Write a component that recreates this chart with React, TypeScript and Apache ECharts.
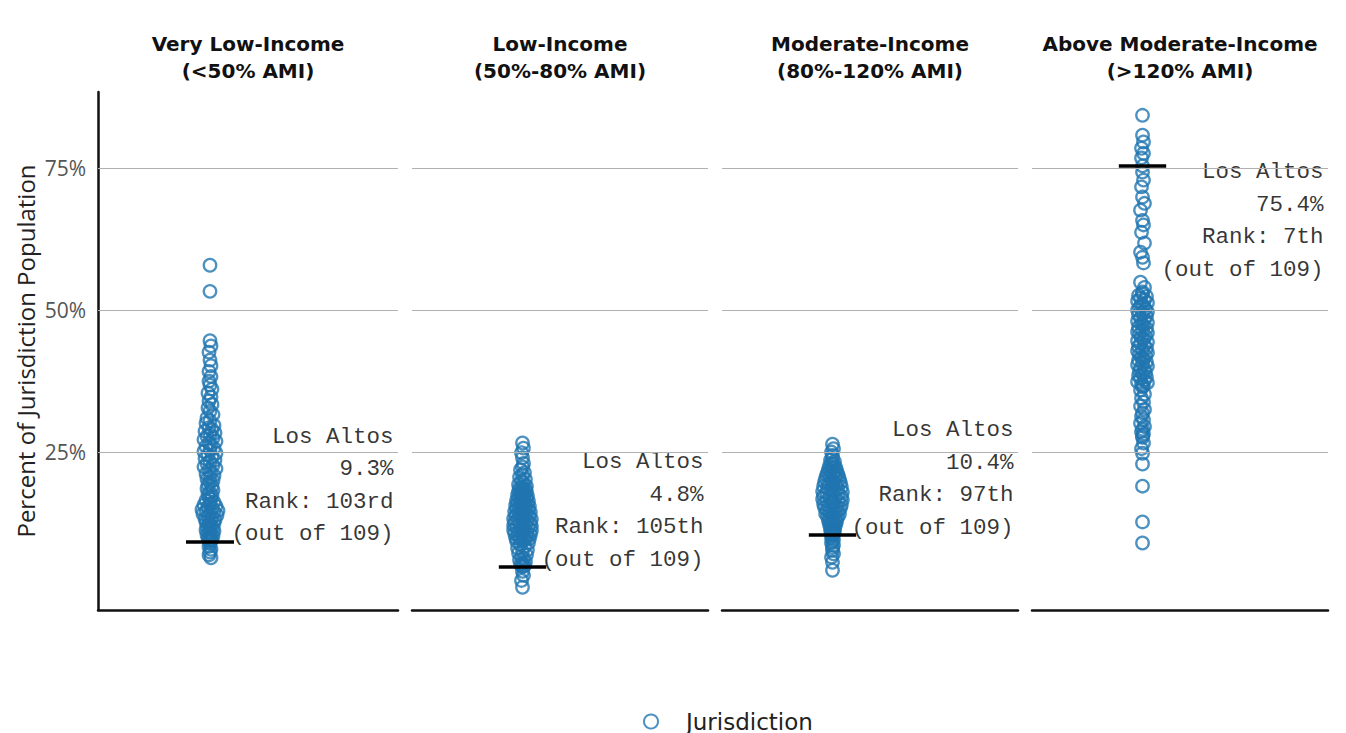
import React, { useEffect, useRef } from 'react';
import * as echarts from 'echarts';

// ---------- data ----------
const CATEGORIES = [
  'Very Low-Income\n(<50% AMI)',
  'Low-Income\n(50%-80% AMI)',
  'Moderate-Income\n(80%-120% AMI)',
  'Above Moderate-Income\n(>120% AMI)',
];
const LOS_ALTOS = [9.3, 4.8, 10.4, 75.4];
const RANKS = ['103rd', '105th', '97th', '7th'];
const TOTAL = 109;
const Y_TICKS = [25, 50, 75];

const VERY_LOW_VALUES = [
  57.9, 53.3,
  44.6, 43.7, 42.6, 41.2, 40.2, 39.2, 38.3, 37.5, 36.8, 36.1, 35.4, 34.7, 34.0, 33.4, 32.8, 32.2, 31.6, 31.0,
  30.5, 30.1, 29.7, 29.3, 29.0, 28.7, 28.4, 28.1, 27.8, 27.5, 27.2, 26.9, 26.6, 26.3, 26.0, 25.7, 25.4, 25.1,
  24.8, 24.5, 24.2, 23.9, 23.6, 23.3, 23.0, 22.7, 22.4, 22.1, 21.8, 21.5, 21.2, 20.9, 20.6, 20.3, 20.0,
  19.7, 19.3, 19.0, 18.6, 18.3, 17.9, 17.6, 17.3, 17.0, 16.7, 16.5, 16.2,
  15.9, 15.7, 15.5, 15.3, 15.1, 14.9, 14.7, 14.6, 14.5, 14.3, 14.1, 13.9, 13.7, 13.5, 13.3, 13.1, 12.9, 12.7, 12.5, 12.3,
  12.1, 11.9, 11.7, 11.5, 11.3, 11.1, 10.9, 10.7, 10.5, 10.3, 10.1, 9.9, 9.7, 9.5, 9.4,
  9.3,
  8.9, 8.4, 7.9, 7.4, 6.9, 6.4,
];
const VERY_LOW_JITTER = [
  0, 0,
  0, 1, -1, 0, 1, -1, 1, -1, 0, 2, -2, 1, -1, 2, -2, 0, 3, -3,
  0, -4, 4, -1, 2, -5, 5, 0, -3, 3, -6, 6, -1, 1, -4, 4, 0, -6, 6, -2, 2, -5, 5, 0, -3, 3, -6, 6, -1, 1, -4, 4, 0, -3, 3,
  0, -2, 2, -3, 3, 0, -2, 2, -1, 1, -4, 4,
  0, -6, 6, -2, 2, -8, 8, -4, 4, 0, -7, 7, -2, 2, -5, 5, 0, -4, 4, -1,
  1, -3, 3, 0, -4, 4, -1, 1, -3, 3, 0, -2, 2, -1, 1,
  0,
  0, -1, 1, 0, -1, 1,
];

const LOW_VALUES = [
  26.6, 25.7, 24.9, 24.0, 23.0,
  22.4, 21.9, 21.4, 21.0, 20.6, 20.2, 19.9, 19.6, 19.3, 19.0,
  18.8, 18.65, 18.5, 18.4, 18.25, 18.1, 18.0, 17.85, 17.7, 17.6,
  17.45, 17.3, 17.2, 17.05, 16.9, 16.8, 16.65, 16.5, 16.4, 16.25,
  16.1, 16.0, 15.85, 15.7, 15.6, 15.45, 15.3, 15.2, 15.05, 14.9,
  14.8, 14.65, 14.5, 14.4, 14.25, 14.1, 14.0, 13.85, 13.7, 13.6,
  13.45, 13.3, 13.2, 13.05, 12.9, 12.8, 12.65, 12.5, 12.4, 12.25,
  12.1, 12.0, 11.85, 11.7, 11.6, 11.45, 11.3, 11.2, 11.05, 10.9,
  10.8, 10.65, 10.5, 10.4, 10.25, 10.1, 10.0, 9.9, 9.8, 9.7,
  9.6, 9.5,
  9.3, 9.0, 8.7, 8.4, 8.1, 7.8, 7.5, 7.2, 6.9, 6.6, 6.3, 6.0, 5.7, 5.4, 5.2, 5.0, 4.9,
  4.8,
  4.0, 3.3, 2.4, 1.2,
];
const LOW_JITTER = [
  0, 1, -1, 0, 1,
  0, -2, 2, 0, -3, 3, -1, 1, -4, 4,
  0, -3, 3, -1, 1, -4, 4, 0, -2, 2,
  -5, 5, -1, 1, -4, 4, 0, -6, 6, -2,
  2, -5, 5, 0, -7, 7, -3, 3, -6, 6,
  -1, 1, -8, 8, -4, 4, 0, -7, 7, -2,
  2, -9, 9, -5, 5, 0, -8, 8, -3, 3,
  -9, 9, -6, 6, -1, 1, -9, 9, -4, 4,
  0, -8, 8, -5, 5, -2, 2, -7, 7, -3,
  3, 0,
  -6, 6, -2, 2, -5, 5, 0, -4, 4, -1, 1, -3, 3, 0, -2, 2, 0,
  0,
  0, 1, -1, 0,
];

const MODERATE_VALUES = [
  26.4, 25.6, 25.0, 24.4,
  23.9, 23.6, 23.3, 23.0, 22.8, 22.6, 22.4, 22.2, 22.0, 21.85,
  21.7, 21.55, 21.4, 21.25, 21.1, 20.95, 20.8, 20.65, 20.5, 20.35,
  20.2, 20.05, 19.9, 19.75, 19.6, 19.45, 19.3, 19.15, 19.0, 18.85,
  18.7, 18.55, 18.4, 18.25, 18.1, 17.95, 17.8, 17.65, 17.5, 17.35,
  17.2, 17.05, 16.9, 16.75, 16.6, 16.45, 16.3, 16.15, 16.0, 15.85,
  15.7, 15.55, 15.4, 15.25, 15.1, 14.95, 14.8, 14.65, 14.5, 14.35,
  14.2, 14.05, 13.9, 13.75, 13.6, 13.45, 13.3, 13.15, 13.0, 12.85,
  12.7, 12.55, 12.4, 12.25, 12.1, 11.95, 11.8, 11.65, 11.5, 11.35,
  11.25, 11.15, 11.05, 10.95, 10.9, 10.85, 10.8, 10.75, 10.7, 10.6, 10.55, 10.5,
  10.4,
  10.2, 9.9, 9.6, 9.3, 9.0, 8.6, 8.2, 7.7, 7.1, 6.5, 5.6, 4.2,
];
const MODERATE_JITTER = [
  0, 1, -1, 0,
  0, -2, 2, -1, 1, -3, 3, 0, -4, 4,
  -2, 2, -5, 5, 0, -6, 6, -3, 3, -7,
  7, -1, 1, -8, 8, -4, 4, 0, -9, 9,
  -5, 5, -2, 2, -10, 10, -6, 6, 0, -9,
  9, -3, 3, -10, 10, -6, 6, -1, 1, -9,
  9, -4, 4, -8, 8, 0, -6, 6, -3, 3,
  -7, 7, -1, 1, -5, 5, -3, 3, 0, -4,
  4, -2, 2, -3, 3, 0, -2, 2, -1, 1,
  -2, 2, 0, -1, 1, 0, -1, 1, 0, -1, 1, 0,
  0,
  0, -1, 1, 0, -1, 1, 0, 0, 1, -1, 0, 0,
];

const ABOVE_MOD_VALUES = [
  84.3, 80.8, 79.6, 78.5, 77.6, 76.8, 75.4,
  74.3, 72.9, 71.7, 69.9, 68.8, 67.6, 65.8, 65.0, 63.7, 61.8, 60.2, 59.3, 58.3, 54.9, 54.0, 53.2,
  52.9, 52.6, 52.4, 52.1, 51.8, 51.6, 51.3, 51.0, 50.8, 50.5,
  50.2, 50.0, 49.7, 49.4, 49.2, 48.9, 48.6, 48.4, 48.1, 47.8,
  47.6, 47.3, 47.0, 46.8, 46.5, 46.2, 46.0, 45.7, 45.4, 45.2,
  44.9, 44.6, 44.4, 44.1, 43.8, 43.6, 43.3, 43.0, 42.8, 42.5,
  42.2, 42.0, 41.7, 41.4, 41.2, 40.9, 40.6, 40.4, 40.1, 39.8,
  39.6, 39.3, 39.0, 38.8, 38.5, 38.2, 38.0, 37.7, 37.4, 37.2,
  36.9, 36.7, 36.5,
  35.9, 35.2, 34.5, 33.8, 33.1, 32.5, 31.9, 31.3, 30.7, 30.1, 29.5, 29.0, 28.6, 28.2, 27.9,
  27.6, 26.6, 25.6, 24.8, 22.9, 19.0, 12.7, 9.0,
];
const ABOVE_MOD_JITTER = [
  0, 0, 1, -1, 1, -1, 0,
  0, 1, -1, 0, 2, -2, 0, 1, -1, 2, -2, 0, 1, -2, 2, 0,
  0, -4, 4, -2, 2, -5, 5, -1, 1, -3,
  3, -5, 5, 0, -4, 4, -2, 2, -5, 5,
  -1, 1, -4, 4, 0, -5, 5, -3, 3, -1,
  1, -5, 5, -2, 2, -4, 4, 0, -5, 5,
  -3, 3, -1, 1, -4, 4, 0, -5, 5, -2,
  2, -3, 3, 0, -4, 4, -2, 2, -5, 5,
  -1, 1, 0,
  -2, 2, -1, 1, -2, 2, 0, -1, 1, -2, 2, 0, -1, 1, 0,
  0, 1, -1, 0, 0, 0, 0, 0,
];

const PANEL_VALUES = [VERY_LOW_VALUES, LOW_VALUES, MODERATE_VALUES, ABOVE_MOD_VALUES];
const PANEL_JITTER = [VERY_LOW_JITTER, LOW_JITTER, MODERATE_JITTER, ABOVE_MOD_JITTER];

// ---------- layout / style ----------
const GRIDS = [
  { left: 98, width: 300 },
  { left: 412, width: 296 },
  { left: 722, width: 296 },
  { left: 1032, width: 296 },
];
const GRID_TOP = 92;
const GRID_HEIGHT = 518;
const Y_MIN = -2.8;
const Y_MAX = 88.4;
const X_MAX = 300;
const CENTER = 112;
const MARK_FROM = 88;
const MARK_TO = 136;
const LABEL_X = 296;
const BLUE = '#2176b0';

export default function App() {
  const ref = useRef<HTMLDivElement>(null);

  useEffect(() => {
    const chart = echarts.init(ref.current!, null, { renderer: 'svg' });

    const series: any[] = [];
    PANEL_VALUES.forEach((vals, i) => {
      series.push({
        name: 'gridlines',
        type: 'scatter',
        xAxisIndex: i,
        yAxisIndex: i,
        data: [],
        silent: true,
        z: 1,
        markLine: {
          silent: true,
          symbol: 'none',
          label: { show: false },
          lineStyle: { color: '#b0b0b0', width: 1.2, type: 'solid' },
          data: Y_TICKS.map((t) => ({ yAxis: t })),
        },
      });
      series.push({
        name: 'Jurisdiction',
        type: 'scatter',
        xAxisIndex: i,
        yAxisIndex: i,
        symbol: 'circle',
        symbolSize: 12.5,
        z: 2,
        itemStyle: { color: 'rgba(0,0,0,0)', borderColor: BLUE, borderWidth: 2.3 },
        data: vals.map((v, j) => [CENTER + PANEL_JITTER[i][j], v]),
      });
      const la = LOS_ALTOS[i];
      series.push({
        name: 'Los Altos',
        type: 'scatter',
        xAxisIndex: i,
        yAxisIndex: i,
        symbol: 'circle',
        symbolSize: 1,
        z: 3,
        silent: true,
        itemStyle: { color: 'rgba(0,0,0,0)' },
        data: [[LABEL_X, la]],
        label: {
          show: true,
          position: 'left',
          distance: 0,
          offset: [0, i === 3 ? 55 : -56],
          align: 'right',
          formatter: `Los Altos\n${la}%\nRank: ${RANKS[i]}\n(out of ${TOTAL})`,
          fontFamily: 'Liberation Mono',
          fontSize: 22.5,
          lineHeight: 32.5,
          color: '#000',
        },
        markLine: {
          silent: true,
          symbol: 'none',
          label: { show: false },
          lineStyle: { color: '#000', width: 3.5, type: 'solid' },
          data: [[{ coord: [MARK_FROM, la] }, { coord: [MARK_TO, la] }]],
        },
      });
    });

    const option: any = {
      animation: false,
      backgroundColor: '#fff',
      title: CATEGORIES.map((c, i) => ({
        text: c,
        left: GRIDS[i].left + GRIDS[i].width / 2,
        top: 30,
        padding: 0,
        textAlign: 'center',
        textStyle: {
          fontFamily: 'DejaVu Sans',
          fontWeight: 'bold',
          fontSize: 20,
          lineHeight: 27,
          color: '#111',
        },
      })),
      legend: {
        data: ['Jurisdiction'],
        left: 638,
        top: 705,
        itemWidth: 60,
        itemHeight: 14,
        textStyle: { fontFamily: 'DejaVu Sans', fontSize: 23, color: '#222' },
      },
      grid: GRIDS.map((g) => ({ left: g.left, width: g.width, top: GRID_TOP, height: GRID_HEIGHT })),
      xAxis: GRIDS.map((g, i) => ({
        gridIndex: i,
        type: 'value',
        min: 0,
        max: X_MAX,
        axisLine: { show: true, onZero: false, lineStyle: { color: '#111', width: 2.5 } },
        axisTick: { show: false },
        axisLabel: { show: false },
        splitLine: { show: false },
      })),
      yAxis: GRIDS.map((g, i) => ({
        gridIndex: i,
        type: 'value',
        min: Y_MIN,
        max: Y_MAX,
        axisLine: { show: i === 0, onZero: false, lineStyle: { color: '#111', width: 2.5 } },
        axisTick: { show: false },
        splitLine: { show: false },
        axisLabel: {
          show: i === 0,
          customValues: Y_TICKS,
          formatter: (v: number) => `${v}%`,
          fontFamily: 'Open Sans',
          fontSize: 21,
          color: '#555',
          margin: 12,
        },
        name: i === 0 ? 'Percent of Jurisdiction Population' : '',
        nameLocation: 'middle',
        nameGap: 61,
        nameTextStyle: { fontFamily: 'Open Sans', fontSize: 24, color: '#222' },
      })),
      series,
    };

    chart.setOption(option);
    return () => chart.dispose();
  }, []);

  return (
    <div
      ref={ref}
      style={{ position: 'fixed', left: 0, top: 0, width: 1346, height: 733, background: '#fff' }}
    />
  );
}
